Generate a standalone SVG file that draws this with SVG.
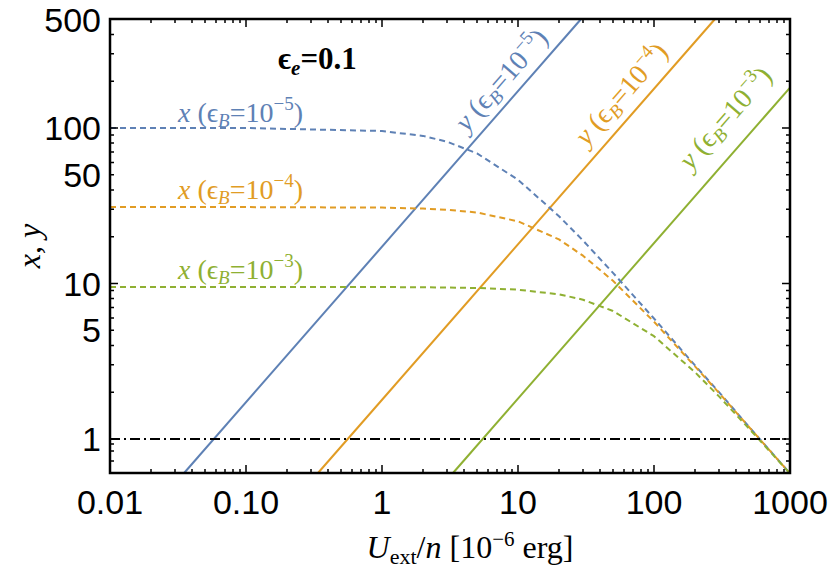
<svg xmlns="http://www.w3.org/2000/svg" width="830" height="567" viewBox="0 0 830 567">
<style>
.ax{font-family:"Liberation Sans",Arial,sans-serif;font-size:34px;fill:#000}
.tm{font-family:"Liberation Serif","Times New Roman",serif;font-size:28px}
.b{stroke:#5E81B5;fill:#5E81B5}.o{stroke:#E19C24;fill:#E19C24}.g{stroke:#8FB032;fill:#8FB032}
.sol{stroke-width:2;fill:none}.dash{stroke-width:2;fill:none;stroke-dasharray:6,4;stroke-linejoin:round}
text.b,text.o,text.g{stroke:none}
.tk{stroke:#000;stroke-width:1.5}
</style>
<rect width="830" height="567" fill="#fff"/>
<g id="connectors">
<line class="b sol" x1="184.1" y1="473" x2="581.1" y2="19"/>
<line class="o sol" x1="318" y1="473" x2="715" y2="19"/>
<line class="g sol" x1="453" y1="473" x2="790" y2="87.6"/>
<polyline class="b dash" points="110,128 246,128 382,131 423,135.9 447,141.7 477,153.4 518,179.7 559,216.2 583,240.5 613,272.9 654,318.5 695,365.4 719,392.2 749,426.7 790,473.5"/>
<polyline class="o dash" points="110,207.1 246,207.1 382,207.6 423,208.6 447,209.8 477,212.5 518,221.3 559,239.4 583,255.7 613,280.8 654,321.7 695,366.4 719,392.9 749,427 790,473.5"/>
<polyline class="g dash" points="110,286.9 382,287 447,287.5 477,288 518,289.7 559,294.3 583,299.7 613,311 654,336.2 695,372.2 719,396.4 749,428.6 790,473.5"/>
<line x1="110" y1="439" x2="790" y2="439" stroke="#000" stroke-width="2" stroke-dasharray="10,4,2,4"/>
</g>
<g id="frame">
<rect x="110" y="19" width="680" height="454" fill="none" stroke="#000" stroke-width="2.5"/>
<path class="tk" d="M246,473v-8M382,473v-8M518,473v-8M654,473v-8M246,19v8M382,19v8M518,19v8M654,19v8
M151,473v-4M175,473v-4M192,473v-4M205,473v-4M216,473v-4M225,473v-4M233,473v-4M240,473v-4
M287,473v-4M311,473v-4M328,473v-4M341,473v-4M352,473v-4M361,473v-4M369,473v-4M376,473v-4
M423,473v-4M447,473v-4M464,473v-4M477,473v-4M488,473v-4M497,473v-4M505,473v-4M512,473v-4
M559,473v-4M583,473v-4M600,473v-4M613,473v-4M624,473v-4M633,473v-4M641,473v-4M648,473v-4
M695,473v-4M719,473v-4M736,473v-4M749,473v-4M760,473v-4M769,473v-4M777,473v-4M784,473v-4
M151,19v4M175,19v4M192,19v4M205,19v4M216,19v4M225,19v4M233,19v4M240,19v4
M287,19v4M311,19v4M328,19v4M341,19v4M352,19v4M361,19v4M369,19v4M376,19v4
M423,19v4M447,19v4M464,19v4M477,19v4M488,19v4M497,19v4M505,19v4M512,19v4
M559,19v4M583,19v4M600,19v4M613,19v4M624,19v4M633,19v4M641,19v4M648,19v4
M695,19v4M719,19v4M736,19v4M749,19v4M760,19v4M769,19v4M777,19v4M784,19v4
M110,439h8M110,283.5h8M110,128h8M790,439h-8M790,283.5h-8M790,128h-8
M110,461h4M110,451h4M110,444h4
M110,392.2h4M110,364.8h4M110,345.4h4M110,330.3h4M110,318h4M110,307.6h4M110,298.6h4M110,290.6h4
M110,236.7h4M110,209.3h4M110,189.9h4M110,174.8h4M110,162.5h4M110,152.1h4M110,143.1h4M110,135.1h4
M110,81.2h4M110,53.8h4M110,34.4h4
M790,461h-4M790,451h-4M790,444h-4
M790,392.2h-4M790,364.8h-4M790,345.4h-4M790,330.3h-4M790,318h-4M790,307.6h-4M790,298.6h-4M790,290.6h-4
M790,236.7h-4M790,209.3h-4M790,189.9h-4M790,174.8h-4M790,162.5h-4M790,152.1h-4M790,143.1h-4M790,135.1h-4
M790,81.2h-4M790,53.8h-4M790,34.4h-4"/>
</g>
<g id="ticklabels" class="ax">
<text x="101" y="32" text-anchor="end">500</text>
<text x="101" y="140" text-anchor="end">100</text>
<text x="101" y="187" text-anchor="end">50</text>
<text x="101" y="296" text-anchor="end">10</text>
<text x="101" y="342" text-anchor="end">5</text>
<text x="101" y="451" text-anchor="end">1</text>
<text x="110" y="514" text-anchor="middle">0.01</text>
<text x="246" y="514" text-anchor="middle">0.10</text>
<text x="382" y="514" text-anchor="middle">1</text>
<text x="518" y="514" text-anchor="middle">10</text>
<text x="654" y="514" text-anchor="middle">100</text>
<text x="790" y="514" text-anchor="middle">1000</text>
</g>
<g id="axis-titles" class="tm">
<text x="470" y="558" text-anchor="middle" font-size="32"><tspan font-style="italic">U</tspan><tspan font-size="22" dy="6">ext</tspan><tspan dy="-6">/</tspan><tspan font-style="italic">n</tspan> [10<tspan font-size="21" dy="-12">−6</tspan><tspan dy="12"> erg]</tspan></text>
<text transform="translate(40,246) rotate(-90)" text-anchor="middle" font-size="32" font-style="italic">x, y</text>
</g>
<g id="title"><text x="278" y="69" font-family="Liberation Serif,serif" font-size="31" font-weight="bold">ϵ<tspan font-size="21" dy="6" font-style="italic">e</tspan><tspan dy="-6">=0.1</tspan></text></g>
<g id="label-xb"><text class="tm b" x="178" y="122"><tspan font-style="italic">x</tspan> (ϵ<tspan font-size="19" dy="5" font-style="italic">B</tspan><tspan dy="-5">=10</tspan><tspan font-size="19" dy="-12">−5</tspan><tspan dy="12">)</tspan></text></g>
<g id="label-xo"><text class="tm o" x="178" y="199"><tspan font-style="italic">x</tspan> (ϵ<tspan font-size="19" dy="5" font-style="italic">B</tspan><tspan dy="-5">=10</tspan><tspan font-size="19" dy="-12">−4</tspan><tspan dy="12">)</tspan></text></g>
<g id="label-xg"><text class="tm g" x="178" y="279"><tspan font-style="italic">x</tspan> (ϵ<tspan font-size="19" dy="5" font-style="italic">B</tspan><tspan dy="-5">=10</tspan><tspan font-size="19" dy="-12">−3</tspan><tspan dy="12">)</tspan></text></g>
<g id="label-yb"><text class="tm b" transform="translate(467,133) rotate(-48.8)"><tspan font-style="italic">y</tspan> (ϵ<tspan font-size="19" dy="5" font-style="italic">B</tspan><tspan dy="-5">=10</tspan><tspan font-size="19" dy="-12">−5</tspan><tspan dy="12">)</tspan></text></g>
<g id="label-yo"><text class="tm o" transform="translate(587,147) rotate(-48.8)"><tspan font-style="italic">y</tspan> (ϵ<tspan font-size="19" dy="5" font-style="italic">B</tspan><tspan dy="-5">=10</tspan><tspan font-size="19" dy="-12">−4</tspan><tspan dy="12">)</tspan></text></g>
<g id="label-yg"><text class="tm g" transform="translate(691,171) rotate(-48.8)"><tspan font-style="italic">y</tspan> (ϵ<tspan font-size="19" dy="5" font-style="italic">B</tspan><tspan dy="-5">=10</tspan><tspan font-size="19" dy="-12">−3</tspan><tspan dy="12">)</tspan></text></g>
</svg>
